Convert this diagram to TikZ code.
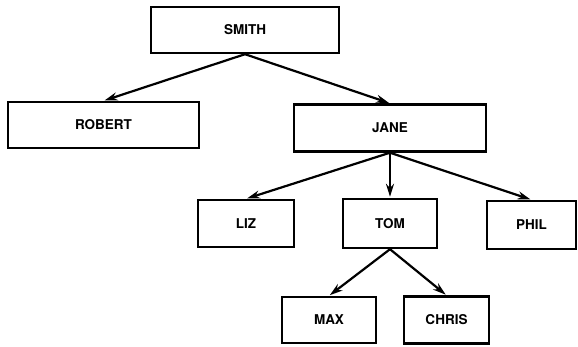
\documentclass[tikz,border=0pt]{standalone}
\usepackage{fontspec}
\setmainfont{TeX Gyre Heros}
\usetikzlibrary{arrows.meta}
\begin{document}
\begin{tikzpicture}[x=1pt,y=-1pt,
  box/.style={draw=black,line width=2.4pt,rectangle,inner sep=0pt,font=\bfseries\fontsize{13.5}{15}\selectfont},
  link/.style={line width=2.2pt,-{Stealth[length=13pt,width=8pt]},shorten >=1pt}]
\useasboundingbox (0,0) rectangle (578,346);
\node[box,minimum width=188pt,minimum height=46pt] (smith) at (245,30) {SMITH};
\node[box,minimum width=191pt,minimum height=46pt] (robert) at (103.5,125) {ROBERT};
\node[box,minimum width=192pt,minimum height=47pt] (jane) at (390,128) {JANE};
\node[box,minimum width=96pt,minimum height=47pt] (liz) at (246,223.5) {LIZ};
\node[box,minimum width=94pt,minimum height=49pt] (tom) at (390,223.5) {TOM};
\node[box,minimum width=89pt,minimum height=48pt] (phil) at (531.5,225) {PHIL};
\node[box,minimum width=94pt,minimum height=46pt] (max) at (329,320) {MAX};
\node[box,minimum width=85pt,minimum height=47pt] (chris) at (446.5,320) {CHRIS};
\draw[link] (smith.south) -- (robert.north);
\draw[link] (smith.south) -- (jane.north);
\draw[link] (jane.south) -- (liz.north);
\draw[link] (jane.south) -- (tom.north);
\draw[link] (jane.south) -- (phil.north);
\draw[link] (tom.south) -- (max.north);
\draw[link] (tom.south) -- (chris.north);
\end{tikzpicture}
\end{document}
